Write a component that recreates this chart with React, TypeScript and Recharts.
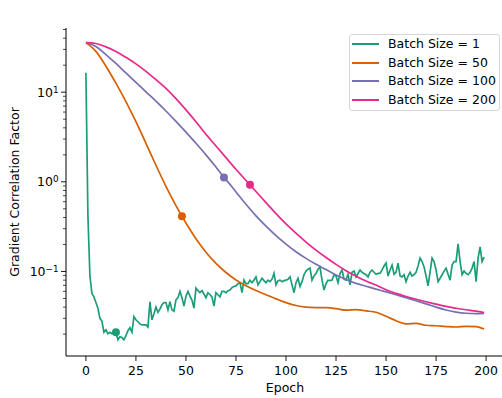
import { ComposedChart, Line, XAxis, YAxis, Legend, Label } from "recharts";

// Batch size 1 (one value per epoch 0..199)
const greenValues = [
  16.5, 0.42, 0.089, 0.057, 0.052, 0.045, 0.039, 0.03, 0.028, 0.021,
  0.0224, 0.0202, 0.021, 0.0202, 0.0207, 0.021, 0.0173, 0.0187, 0.0183, 0.0173,
  0.0192, 0.0218, 0.0236, 0.021, 0.0313, 0.0289, 0.0275, 0.026, 0.0254, 0.0254,
  0.0254, 0.024, 0.046, 0.0289, 0.0337, 0.04, 0.035, 0.038, 0.0425, 0.045,
  0.045, 0.0373, 0.046, 0.0373, 0.036, 0.0483, 0.051, 0.06, 0.051, 0.041,
  0.053, 0.06, 0.053, 0.048, 0.039, 0.065, 0.061, 0.058, 0.061, 0.056,
  0.051, 0.058, 0.055, 0.052, 0.041, 0.058, 0.055, 0.052, 0.06, 0.06,
  0.058, 0.061, 0.062, 0.066, 0.068, 0.069, 0.073, 0.075, 0.058, 0.08,
  0.073, 0.073, 0.08, 0.075, 0.08, 0.087, 0.071, 0.077, 0.084, 0.079,
  0.075, 0.08, 0.077, 0.082, 0.095, 0.071, 0.079, 0.08, 0.077, 0.079,
  0.08, 0.082, 0.087, 0.071, 0.058, 0.075, 0.084, 0.068, 0.077, 0.092,
  0.101, 0.106, 0.109, 0.08, 0.089, 0.095, 0.106, 0.112, 0.08, 0.062,
  0.073, 0.08, 0.079, 0.08, 0.092, 0.089, 0.075, 0.095, 0.104, 0.082,
  0.08, 0.093, 0.071, 0.098, 0.101, 0.087, 0.095, 0.104, 0.098, 0.095,
  0.092, 0.087, 0.098, 0.104, 0.098, 0.093, 0.095, 0.095, 0.104, 0.115,
  0.124, 0.089, 0.104, 0.118, 0.093, 0.098, 0.124, 0.089, 0.087, 0.092,
  0.077, 0.089, 0.098, 0.089, 0.092, 0.098, 0.115, 0.141, 0.129, 0.112,
  0.089, 0.069, 0.098, 0.141, 0.129, 0.104, 0.077, 0.084, 0.092, 0.101,
  0.109, 0.093, 0.08, 0.118, 0.129, 0.129, 0.203, 0.129, 0.092, 0.101,
  0.095, 0.092, 0.098, 0.109, 0.129, 0.077, 0.141, 0.188, 0.129, 0.145,
];

// Batch size 50
const orangeEpochs = [0, 5, 10, 15, 20, 25, 30, 35, 40, 45, 48, 50, 55, 60, 65, 70, 75, 80, 85, 90, 95, 100, 105, 110, 115, 120, 125, 130, 135, 140, 145, 150, 155, 160, 165, 170, 175, 180, 185, 190, 195, 199];
const orangeValues = [35.7, 28.5, 19.5, 12.6, 7.85, 4.68, 2.69, 1.53, 0.891, 0.543, 0.412, 0.347, 0.232, 0.164, 0.123, 0.0973, 0.0804, 0.0692, 0.0612, 0.055, 0.0495, 0.0449, 0.0417, 0.04, 0.0395, 0.0394, 0.0385, 0.037, 0.0376, 0.0363, 0.0351, 0.0316, 0.0282, 0.026, 0.0264, 0.0251, 0.0248, 0.0243, 0.024, 0.0244, 0.0243, 0.0228];

// Batch size 100
const purpleEpochs = [0, 5, 10, 15, 20, 25, 30, 35, 40, 45, 50, 55, 60, 65, 69, 70, 75, 80, 85, 90, 95, 100, 105, 110, 115, 120, 125, 130, 135, 140, 145, 150, 155, 160, 165, 170, 175, 180, 185, 190, 195, 199];
const purpleValues = [35.7, 32.4, 26.3, 20.9, 16.4, 12.9, 10.1, 7.94, 6.17, 4.73, 3.59, 2.69, 2.0, 1.46, 1.12, 1.06, 0.771, 0.562, 0.417, 0.32, 0.251, 0.202, 0.166, 0.14, 0.12, 0.105, 0.0912, 0.0813, 0.0736, 0.0684, 0.0635, 0.0592, 0.055, 0.0509, 0.0471, 0.0435, 0.04, 0.0372, 0.0352, 0.0342, 0.0339, 0.0341];

// Batch size 200
const pinkEpochs = [0, 5, 10, 15, 20, 25, 30, 35, 40, 45, 50, 55, 60, 65, 70, 75, 80, 82, 85, 90, 95, 100, 105, 110, 115, 120, 125, 130, 135, 140, 145, 150, 155, 160, 165, 170, 175, 180, 185, 190, 195, 199];
const pinkValues = [35.7, 34.9, 32.0, 28.5, 24.5, 20.7, 17.1, 13.8, 11.0, 8.47, 6.35, 4.68, 3.39, 2.51, 1.86, 1.38, 1.035, 0.925, 0.78, 0.586, 0.442, 0.339, 0.267, 0.213, 0.173, 0.143, 0.12, 0.102, 0.0885, 0.0782, 0.0705, 0.0624, 0.0569, 0.0525, 0.049, 0.0459, 0.0432, 0.0407, 0.0389, 0.0374, 0.0361, 0.0348];

const seriesNames = ["Batch Size = 1", "Batch Size = 50", "Batch Size = 100", "Batch Size = 200"];
const seriesColors = ["#1b9e77", "#d95f02", "#7570b3", "#e7298a"];
const markerEpochs = [15, 48, 69, 82];

const xTicks = [0, 25, 50, 75, 100, 125, 150, 175, 200];
const yTicks = [
  0.02, 0.03, 0.04, 0.05, 0.06, 0.07, 0.08, 0.09, 0.1,
  0.2, 0.3, 0.4, 0.5, 0.6, 0.7, 0.8, 0.9, 1,
  2, 3, 4, 5, 6, 7, 8, 9, 10, 20, 30, 40, 50,
];

const FONT = "DejaVu Sans";

const rows = (epochs: number[], values: number[]) =>
  epochs.map((epoch, i) => ({ epoch, value: values[i] }));

const seriesData = [
  rows(greenValues.map((_, i) => i), greenValues),
  rows(orangeEpochs, orangeValues),
  rows(purpleEpochs, purpleValues),
  rows(pinkEpochs, pinkValues),
];

const markerDot = (epoch: number, color: string) => (props: any) => {
  const { cx, cy, payload, index } = props;
  if (payload.epoch !== epoch) return <g key={index} />;
  return <circle key={index} cx={cx} cy={cy} r={4} fill={color} />;
};

const XTick = (props: any) => {
  const { x, y, payload } = props;
  return (
    <g>
      <line x1={x} x2={x} y1={y} y2={y + 5} stroke="#000" strokeWidth={0.9} />
      <text x={x} y={y + 19} textAnchor="middle" fontSize={12.5} fontFamily={FONT} fill="#000">
        {payload.value}
      </text>
    </g>
  );
};

const YTick = (props: any) => {
  const { x, y, payload } = props;
  const lg = Math.log10(payload.value);
  const exp = Math.round(lg);
  const major = Math.abs(lg - exp) < 1e-6;
  if (!major) {
    return <line x1={x - 3} x2={x} y1={y} y2={y} stroke="#000" strokeWidth={0.7} />;
  }
  return (
    <g>
      <line x1={x - 5} x2={x} y1={y} y2={y} stroke="#000" strokeWidth={0.9} />
      <text x={x - 7.5} y={y + 4.6} textAnchor="end" fontSize={12.5} fontFamily={FONT} fill="#000">
        <tspan>10</tspan>
        <tspan dy={-4} fontSize={8.8}>{exp < 0 ? "\u2212" + Math.abs(exp) : String(exp)}</tspan>
      </text>
    </g>
  );
};

const LegendBox = (props: any) => {
  const items = [...(props.payload || [])].sort(
    (a: any, b: any) => seriesNames.indexOf(a.value) - seriesNames.indexOf(b.value)
  );
  return (
    <div
      style={{
        position: "relative",
        boxSizing: "border-box",
        width: 151,
        height: 77,
        border: "1px solid #d6d6d6",
        borderRadius: 3,
        background: "rgba(255,255,255,0.8)",
        fontFamily: FONT,
        fontSize: 12.5,
        color: "#000",
      }}
    >
      {items.map((item: any, i: number) => (
        <div key={i} style={{ position: "absolute", left: 0, top: 18.5 * i, height: 18, width: 149 }}>
          <div style={{ position: "absolute", left: 2, top: 8, width: 27, height: 2, background: item.color }} />
          <div style={{ position: "absolute", left: 38, top: 1, lineHeight: "15px", whiteSpace: "nowrap" }}>
            {item.value}
          </div>
        </div>
      ))}
    </div>
  );
};

export default function App() {
  return (
    <div
      style={{
        position: "absolute",
        left: 0,
        top: 0,
        width: 502,
        height: 398,
        overflow: "hidden",
        background: "#fff",
      }}
    >
      <ComposedChart width={520} height={398} margin={{ top: 28, right: 16, bottom: 0, left: 0 }}>
        <XAxis
          xAxisId={0}
          dataKey="epoch"
          type="number"
          domain={[-9.95, 208.95]}
          ticks={xTicks}
          interval={0}
          height={42}
          tickSize={0}
          tickMargin={0}
          tickLine={false}
          tick={<XTick />}
          axisLine={{ stroke: "#000", strokeWidth: 1 }}
          allowDataOverflow
        >
          <Label
            content={() => (
              <text x={285} y={391.5} textAnchor="middle" fontSize={12.5} fontFamily={FONT} fill="#000">
                Epoch
              </text>
            )}
          />
        </XAxis>
        <XAxis
          xAxisId="top"
          orientation="top"
          type="number"
          domain={[-9.95, 208.95]}
          height={0}
          tick={false}
          tickLine={false}
          axisLine={{ stroke: "#333", strokeWidth: 1 }}
        >
          <Label
            content={() => (
              <text x={285} y={20} textAnchor="middle" fontSize={15} fontFamily={FONT} fill="#000">
                Datapoints = 200
              </text>
            )}
          />
        </XAxis>
        <YAxis
          type="number"
          scale="log"
          domain={[0.0114, 52]}
          ticks={yTicks}
          interval={0}
          width={66}
          tickSize={0}
          tickMargin={0}
          tickLine={false}
          tick={<YTick />}
          axisLine={{ stroke: "#000", strokeWidth: 1 }}
          allowDataOverflow
        >
          <Label
            content={() => (
              <text
                x={19}
                y={192}
                transform="rotate(-90 19 192)"
                textAnchor="middle"
                fontSize={12.5}
                fontFamily={FONT}
                fill="#000"
              >
                Gradient Correlation Factor
              </text>
            )}
          />
        </YAxis>
        <Legend
          layout="vertical"
          align="center"
          verticalAlign="middle"
          content={<LegendBox />}
          wrapperStyle={{ left: 349, top: 34, width: 151, height: 77 }}
        />
        {seriesData.map((data, i) => (
          <Line
            key={seriesNames[i]}
            data={data}
            dataKey="value"
            name={seriesNames[i]}
            type={i === 0 ? "linear" : "monotone"}
            stroke={seriesColors[i]}
            strokeWidth={1.7}
            dot={markerDot(markerEpochs[i], seriesColors[i])}
            activeDot={false}
            isAnimationActive={false}
          />
        ))}
      </ComposedChart>
    </div>
  );
}
